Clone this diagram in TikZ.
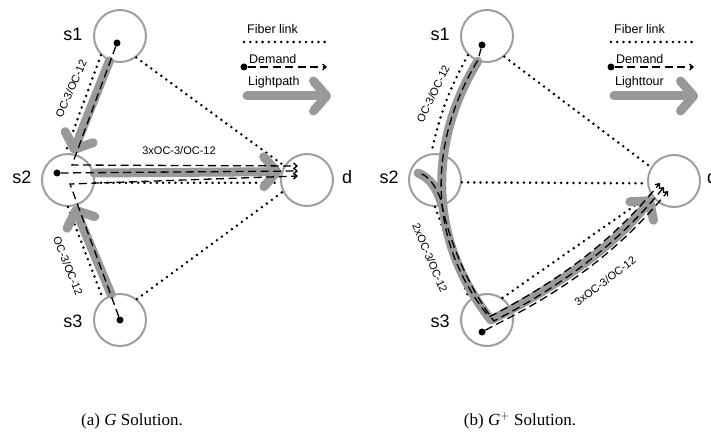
\documentclass[tikz,border=0pt]{standalone}
\usepackage{fontspec}
\setmainfont{Liberation Serif}
\newfontfamily\labfont{Liberation Sans}
\usetikzlibrary{arrows.meta}
\definecolor{ringgray}{gray}{0.62}
\definecolor{pathgray}{gray}{0.6}
\begin{document}
\begin{tikzpicture}[x=1pt,y=-1pt,
  station/.style={circle, draw=ringgray, line width=2pt, minimum size=52pt, inner sep=0pt},
  nlabel/.style={font=\labfont\fontsize{18}{18}\selectfont, inner sep=0pt},
  elabel/.style={font=\labfont\fontsize{11}{11}\selectfont, inner sep=0pt},
  leglabel/.style={font=\labfont\fontsize{12.5}{12.5}\selectfont, inner sep=0pt, anchor=west},
  fiber/.style={line width=2.8pt, line cap=round, dash pattern=on 0pt off 6.2pt},
  demand/.style={line width=1.3pt, dash pattern=on 8pt off 4.5pt, -{Straight Barb[length=3.5pt,width=6pt]}},
  light/.style={draw=pathgray, line width=9pt, line cap=round, line join=round, -{Straight Barb[length=13pt,width=30pt,round]}},
  lightplain/.style={draw=pathgray, line width=9pt, line cap=round, line join=round},
  dot/.style={circle, fill=black, inner sep=0pt, minimum size=7pt},
  capt/.style={font=\fontsize{17}{17}\selectfont, inner sep=0pt}]
\useasboundingbox (0,0) rectangle (711,446);

% ================= LEFT PANEL =================
\node[station] (s1) at (120,36) {};
\node[station] (s2) at (68,180) {};
\node[station] (s3) at (120,320) {};
\node[station] (d)  at (307,180) {};
\node[nlabel] (s1l) at (73,34) {s1};
\node[nlabel] (s2l) at (22,177) {s2};
\node[nlabel] (s3l) at (73,321) {s3};
\node[nlabel] (dl) at (347,177) {d};

% fiber links
\draw[fiber] (s1.225) -- (s2.96);
\draw[fiber] (s2.270) -- (s3.129);
\draw[fiber] (s1.307) -- (d.148);
\draw[fiber] (s3.51) -- (d.206);
\draw[fiber] (s2.354) -- (d.186);

% lightpaths
\draw[light] (s1.247) -- (s2.80);
\draw[light] (s3.109) -- (s2.283);
\draw[light] (s2.15) -- (d.162);

% demands
\node[dot] (s1dot) at (117,43) {};
\node[dot] (s2dot) at (57,173) {};
\node[dot] (s3dot) at (120,320) {};
\coordinate (la) at (72,165);
\coordinate (lc) at (70,184);
\coordinate (dA) at (298,166);
\coordinate (dB) at (298,171);
\coordinate (dC) at (298,176);
\draw[demand] (s1dot) -- (la) -- (dA);
\draw[demand] (s2dot) -- (dB);
\draw[demand] (s3dot) -- (lc) -- (dC);

% edge labels
\node[elabel, rotate=66] (e1) at (71,89) {OC-3/OC-12};
\node[elabel] (e2) at (179,151) {3xOC-3/OC-12};
\node[elabel, rotate=-68] (e3) at (68,266) {OC-3/OC-12};

% legend
\node[leglabel] (lfib) at (247,29) {Fiber link};
\coordinate (lf1) at (244,42);
\coordinate (lf2) at (327,42);
\draw[fiber] (lf1) -- (lf2);
\node[leglabel] (ldem) at (249,59) {Demand};
\node[dot] (ld1) at (244,67) {};
\coordinate (ld2) at (327,67);
\draw[demand] (ld1) -- (ld2);
\node[leglabel] (llp) at (248,82) {Lightpath};
\coordinate (ll1) at (247,96);
\coordinate (ll2) at (331,96);
\draw[light] (ll1) -- (ll2);

\node[capt] (capa) at (132,421) {(a) \textit{G} Solution.};

% ================= RIGHT PANEL =================
\node[station] (r1) at (487,36) {};
\node[station] (r2) at (435,180) {};
\node[station] (r3) at (487,320) {};
\node[station] (rd) at (674,181) {};
\node[nlabel] (r1l) at (440,34) {s1};
\node[nlabel] (r2l) at (389,177) {s2};
\node[nlabel] (r3l) at (440,321) {s3};
\node[nlabel, anchor=west] (rdl) at (707,177) {d};

% fiber links
\draw[fiber] (r1.225) to[bend right=8] (r2.98);
\draw[fiber] (r2.270) -- (r3.131);
\draw[fiber] (r1.310) -- (rd.149);
\draw[fiber] (r3.55) -- (rd.210);
\draw[fiber] (r2.355) -- (rd.185);

% lighttour
\coordinate (kR) at (491,320);
\node[dot] (r1dot) at (482,45) {};
\node[dot] (r2dot) at (418,173) {};
\node[dot] (r3dot) at (482,332) {};
\draw[lightplain] (r2dot.center) .. controls (430,178) and (437,188) .. (442,205);
\draw[light] (r1.250) .. controls (435,130) and (420,230) .. (kR) .. controls (560,285) and (615,245) .. (rd.217);

% demands
\coordinate (rA) at (478,60);
\coordinate (rB) at (441,200);
\coordinate (rC) at (495,325);
\coordinate (dR1) at (660,183);
\coordinate (dR2) at (664,187);
\coordinate (dR3) at (668,191);
\draw[demand] (r1dot) -- (rA) .. controls (435,130) and (419,230) .. (489,317) .. controls (557,282) and (612,242) .. (dR1);
\draw[demand] (r2dot) .. controls (428,176) and (436,186) .. (rB) .. controls (448,240) and (470,290) .. (494,321) .. controls (561,286) and (616,246) .. (dR2);
\draw[demand] (r3dot) -- (rC) .. controls (565,290) and (620,250) .. (dR3);

% edge labels
\node[elabel, rotate=64] (f1) at (433,94) {OC-3/OC-12};
\node[elabel, rotate=-67] (f2) at (430,258) {2xOC-3/OC-12};
\node[elabel, rotate=37] (f3) at (605,281) {3xOC-3/OC-12};

% legend
\node[leglabel] (rfib) at (614,29) {Fiber link};
\coordinate (rf1) at (611,42);
\coordinate (rf2) at (694,42);
\draw[fiber] (rf1) -- (rf2);
\node[leglabel] (rdem) at (616,59) {Demand};
\node[dot] (rd1) at (611,67) {};
\coordinate (rd2) at (694,67);
\draw[demand] (rd1) -- (rd2);
\node[leglabel] (rlt) at (615,82) {Lighttour};
\coordinate (rl1) at (614,96);
\coordinate (rl2) at (698,96);
\draw[light] (rl1) -- (rl2);

\node[capt] (capb) at (520,421) {(b) \textit{G}$^{+}$ Solution.};
\end{tikzpicture}
\end{document}
